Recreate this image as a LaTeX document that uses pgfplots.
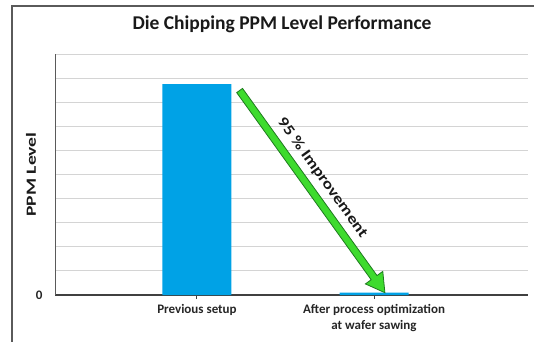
\documentclass[border=0pt]{standalone}
\usepackage{pgfplots}
\pgfplotsset{compat=1.18}
\usepackage{fontspec}
\setmainfont{Carlito}
\usetikzlibrary{shapes.arrows}
\definecolor{barblue}{HTML}{00A2E6}
\definecolor{arrgreen}{HTML}{3EDB2E}
\definecolor{arrdark}{HTML}{1F7A1F}
\definecolor{gridgray}{HTML}{D4D4D4}
\definecolor{framegray}{HTML}{5A5A5A}
\begin{document}
\begin{tikzpicture}
\useasboundingbox (0pt,0pt) rectangle (534pt,341pt);
\clip (0pt,0pt) rectangle (534pt,341pt);
\draw[color=framegray, line width=1.5pt] (12pt,-20pt) rectangle (560pt,335pt);
\begin{axis}[
  at={(55pt,46pt)}, anchor=south west,
  scale only axis, width=473pt, height=241pt,
  xmin=-0.802, xmax=1.87, ymin=0, ymax=10,
  ybar, bar width=69pt,
  axis x line*=bottom, axis y line*=left,
  x axis line style={color=black!75, line width=1.4pt},
  y axis line style={color=framegray, line width=1pt},
  ymajorgrids, major grid style={color=gridgray, line width=0.9pt},
  xtick={0,1},
  xticklabels={Previous setup, {After process optimization\\at wafer sawing}},
  xticklabel style={align=center, font=\fontsize{13}{15.5}\selectfont\bfseries, text=black!85, yshift=-2pt},
  x tick style={color=black!75, line width=1pt},
  tick align=outside, major tick length=4pt,
  ytick={0,1,2,3,4,5,6,7,8,9,10},
  yticklabels={0,{},{},{},{},{},{},{},{},{},{}},
  y tick style={draw=none},
  yticklabel style={font=\fontsize{13}{15}\selectfont\bfseries, text=black!85, xshift=-5pt},
  ylabel={\scalebox{1.4}[1]{PPM Level}},
  ylabel style={at={(axis description cs:-0.0507,0.5)}, anchor=center, font=\fontsize{14}{17}\selectfont\bfseries, text=black!90},
  title={Die Chipping PPM Level Performance},
  title style={at={(axis description cs:0.48,1.0996)}, anchor=center, font=\fontsize{19.5}{22}\selectfont\bfseries, text=black!90},
  clip=false,
]
\addplot[fill=barblue, draw=none] coordinates {(0,8.75) (1,0.1)};
\node[single arrow, draw=arrdark, fill=arrgreen, line width=0.8pt,
      minimum height=249pt, minimum width=21pt, inner sep=3.2pt,
      single arrow tip angle=60, rotate=-54.3] at (axis cs:0.641,4.395) {};
\node[rotate=-54.3, font=\fontsize{15}{18}\selectfont\bfseries, text=black!90] at (axis cs:0.708,4.86) {\scalebox{1.22}[1]{95 \% Improvement}};
\end{axis}
\end{tikzpicture}
\end{document}
